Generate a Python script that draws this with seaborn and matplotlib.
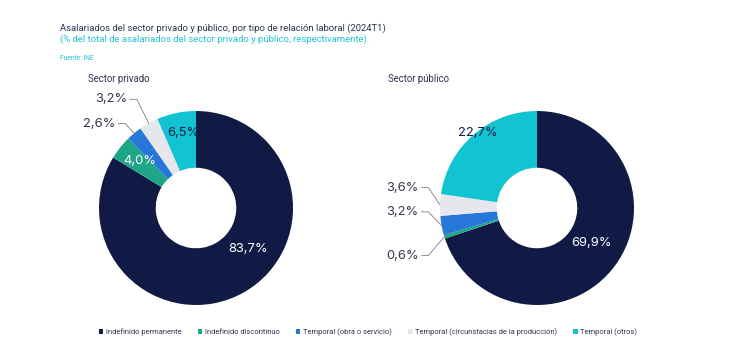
import numpy as np
import matplotlib.pyplot as plt
import seaborn as sns
from matplotlib.patches import Patch

sns.set_theme(style="white")
plt.rcParams['font.family'] = ['Roboto', 'DejaVu Sans']

categorias = ["Indefinido permanente", "Indefinido discontinuo", "Temporal (obra o servicio)",
              "Temporal (circunstacias de la producción)", "Temporal (otros)"]
privado = [83.7, 4.0, 2.6, 3.2, 6.5]
publico = [69.9, 0.6, 3.2, 3.6, 22.7]
colores = ["#111a45", "#1fa688", "#2777d9", "#e6e7ec", "#12c4d2"]

# label layout per wedge: (mode, x, y, colour) in pie coordinates
etiquetas_priv = [("in", 0.54, -0.42, "white"), ("in", -0.58, 0.48, "white"),
                  ("out", -0.83, 0.87, None), ("out", -0.71, 1.12, None),
                  ("in", -0.13, 0.77, "#111a45")]
etiquetas_pub = [("in", 0.56, -0.36, "white"), ("out", -1.22, -0.49, None),
                 ("out", -1.22, -0.04, None), ("out", -1.22, 0.21, None),
                 ("in", -0.61, 0.77, "#111a45")]
fuente_pct = ['Inter', 'DejaVu Sans']

fig = plt.figure(figsize=(7.33, 3.6), dpi=100)


def dona(cx, cy, valores, etiquetas, titulo, tx):
    w, h = 194 / 733, 194 / 360
    ax = fig.add_axes([cx / 733 - w / 2, 1 - cy / 360 - h / 2, w, h])
    ax.pie(valores, colors=colores, startangle=90, counterclock=False, radius=1,
           wedgeprops=dict(width=0.585, edgecolor="none"))
    ax.set_xlim(-1, 1)
    ax.set_ylim(-1, 1)
    ax.set_aspect("equal")
    ax.axis("off")
    acum = np.cumsum([0] + valores)
    for i, v in enumerate(valores):
        modo, x, y, col = etiquetas[i]
        txt = f"{v:.1f}%".replace(".", ",")
        if modo == "in":
            ax.text(x, y, txt, ha="center", va="center", color=col, fontsize=9.3, family=fuente_pct)
        else:
            ang = np.deg2rad(90 - (acum[i] + v / 2) * 3.6)
            ex, ey = np.cos(ang), np.sin(ang)
            ax.text(x, y, txt, ha="right", va="center", color="#333a4d", fontsize=9.3,
                    family=fuente_pct, clip_on=False)
            ax.plot([x + 0.03, x + 0.1, ex], [y, y, ey], color="#7a7f8c", lw=0.6, clip_on=False)
    fig.text(tx / 733, 1 - 79 / 360, titulo, fontsize=6.9, color="#2c3350", va="center")


dona(196, 208, privado, etiquetas_priv, "Sector privado", 88)
dona(537, 208, publico, etiquetas_pub, "Sector público", 388)

fig.text(60 / 733, 1 - 28 / 360, "Asalariados del sector privado y público, por tipo de relación laboral (2024T1)",
         fontsize=6.8, color="#2c3350", va="center")
fig.text(60 / 733, 1 - 39.5 / 360, "(% del total de asalariados del sector privado y público, respectivamente).",
         fontsize=6.8, color="#22c3d6", va="center")
fig.text(60 / 733, 1 - 59 / 360, "Fuente: INE", fontsize=4.8, color="#22c3d6", va="center")

handles = [Patch(facecolor=c, edgecolor="none") for c in colores]
fig.legend(handles, categorias, loc="center", bbox_to_anchor=(368 / 733, 1 - 332 / 360), ncol=5,
           frameon=False, fontsize=5.4, handlelength=0.6, handleheight=0.6, handletextpad=0.3,
           columnspacing=2.2, labelcolor="#2c3350")

fig.savefig("out.png", dpi=100)
